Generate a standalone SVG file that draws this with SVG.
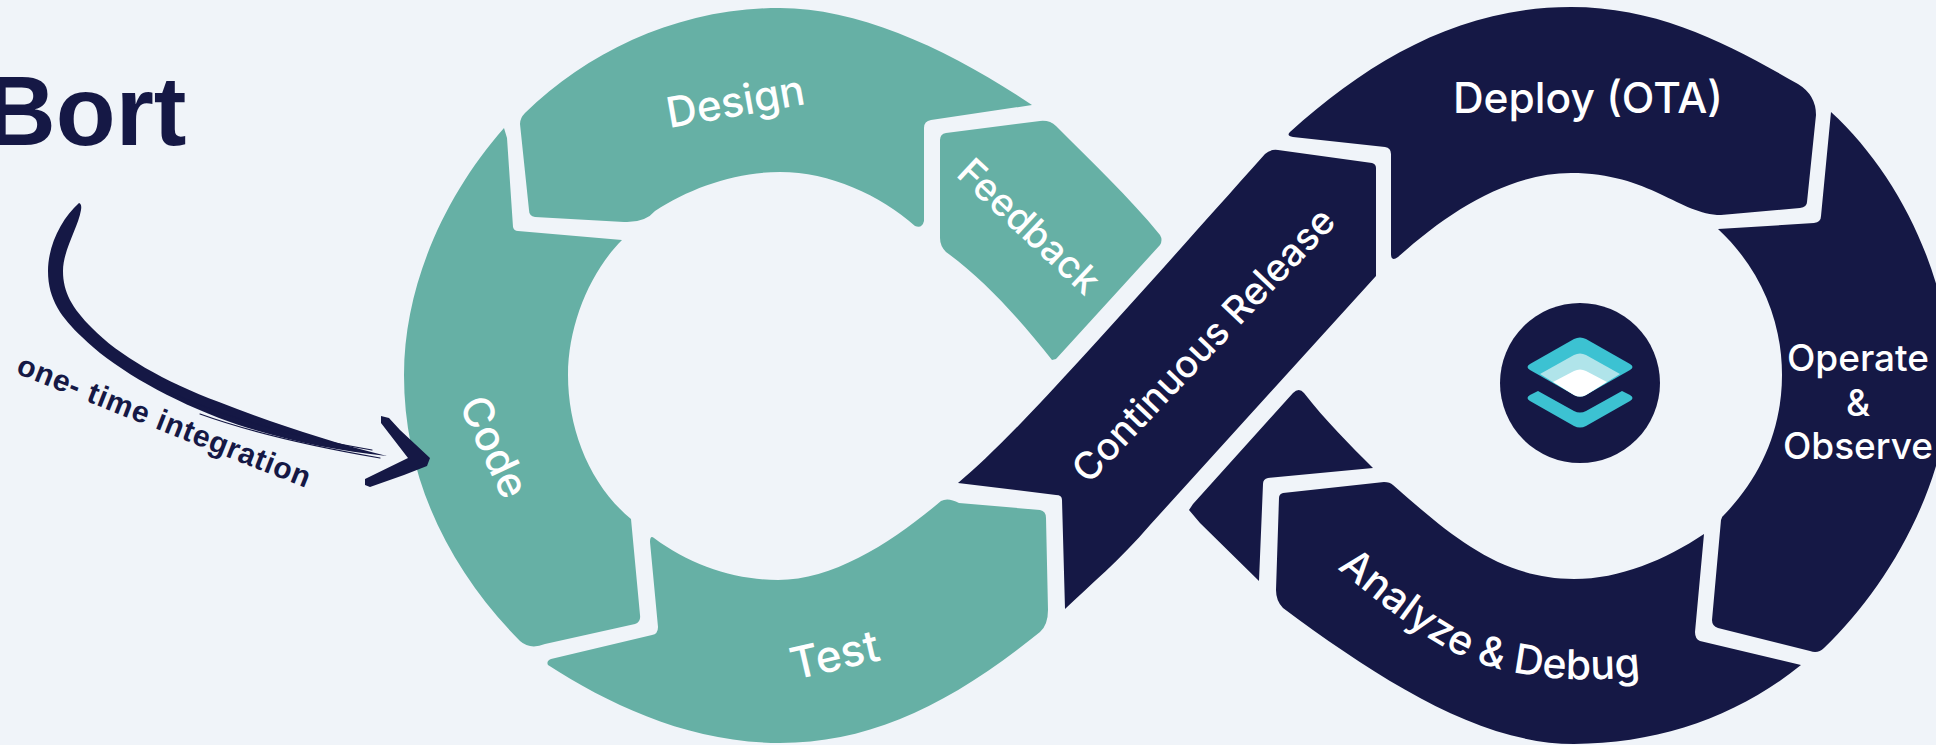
<svg xmlns="http://www.w3.org/2000/svg" width="1936" height="745" viewBox="0 0 1936 745">
<style>
.teal{fill:#66b0a5}
.navy{fill:#151845}
.lbl{font-family:Inter,"Liberation Sans",sans-serif;font-weight:500;font-size:42px;fill:#fff;text-anchor:middle}
.feather{fill:none;stroke:#151845;stroke-width:1.2;stroke-linecap:round}
</style>
<defs>
<path id="analyzePath" d="M1322 556 C1376 600 1428 645 1478 663 C1530 680 1590 684 1660 674"/>
</defs>
<rect width="1936" height="745" fill="#f0f4f9"/>
<g id="bort"><text x="-15" y="145" font-family="'Liberation Sans',Arial,sans-serif" font-weight="700" font-size="98" fill="#151845">Bort</text></g>
<g id="design"><path class="teal" d="M520 124 Q520 118 525 113 C590 50 680 8 780 8 C860 8 950 50 1032 105 L931 120 Q924 121 924 128 L924 221 Q922 229 915 226 C880 195 830 172 780 172 C735 172 690 188 655 211 Q645 223 624 222 L535 217 Q529 216 529 210 Z"/>
<text class="lbl" transform="translate(738 116) rotate(-10)">Design</text></g>
<g id="feedback"><path class="teal" d="M940 140 Q940 134 946 133 L1040 121 Q1050 120 1056 126 C1090 160 1130 198 1160 235 Q1163 240 1160 245 L1056 359 L1052 360 C1020 320 985 280 946 252 Q940 246 940 238 Z"/>
<text class="lbl" transform="translate(1020 236) rotate(43)" style="font-size:38px">Feedback</text></g>
<g id="code"><path class="teal" d="M504 128 L507 138 L513 227 Q514 231 518 231 L622 240 C590 272 568 325 568 375 C568 430 590 485 631 519 L640 615 Q641 622 635 624 L545 644 Q530 650 520 641 C450 570 404 480 404 375 C404 285 445 195 504 128 Z"/>
<text class="lbl" transform="translate(481 453) rotate(65)">Code</text></g>
<g id="test"><path class="teal" d="M650 542 Q650 535 654 538 C690 565 735 580 778 580 C835 580 895 540 941 501 Q948 497 959 503 L1040 510 Q1046 511 1046 518 L1048 610 Q1048 625 1040 632 C950 705 870 743 780 743 C690 743 610 705 548 665 Q546 661 551 659 L652 635 Q658 634 658 627 Z"/>
<text class="lbl" transform="translate(838 670) rotate(-13)" style="font-size:44px">Test</text></g>
<g id="continuous-release"><path class="navy" d="M958 483 C1010 440 1090 350 1265 154 Q1270 149 1278 150 L1372 163 Q1376 164 1376 168 L1376 276 L1150 525 C1120 560 1090 585 1065 609 L1062 500 Q1062 495 1056 495 Z"/>
<text class="lbl" transform="translate(1213 354) rotate(-46.5)" style="font-size:38px">Continuous Release</text></g>
<g id="deploy"><path class="navy" d="M1293 137 Q1286 136 1290 132 C1370 60 1460 7 1571 7 C1660 7 1730 45 1798 84 Q1816 95 1816 115 L1807 202 Q1807 207 1800 208 L1721 215 C1680 215 1650 173 1571 173 C1510 173 1450 210 1398 257 Q1391 262 1391 254 L1391 154 Q1391 148 1385 147 Z"/>
<text class="lbl" transform="translate(1588 113)" style="font-size:42.5px">Deploy (OTA)</text></g>
<g id="operate"><path class="navy" d="M1831 112 C1900 175 1950 280 1950 375 C1950 480 1890 585 1824 648 Q1818 654 1810 651 L1718 628 Q1712 626 1712 620 L1721 520 Q1722 516 1724 515 C1760 478 1782 430 1782 375 C1782 320 1760 268 1718 229 L1814 223 Q1821 222 1821 216 Z"/>
<text class="lbl" x="1858" y="371" style="font-size:37px">Operate</text><text class="lbl" x="1858" y="416" style="font-size:37px">&amp;</text><text class="lbl" x="1858" y="459" style="font-size:37px">Observe</text></g>
<g id="analyze"><path class="navy" d="M1279 498 Q1279 494 1283 493 L1384 482 Q1390 482 1393 485 C1450 535 1500 579 1574 579 C1620 579 1665 560 1704 534 L1695 632 Q1695 639 1700 641 L1801 665 C1740 715 1660 744 1574 744 C1480 744 1380 680 1283 608 Q1276 601 1276 590 Z"/>
<text class="lbl" style="font-size:41px"><textPath href="#analyzePath" startOffset="50%">Analyze &amp; Debug</textPath></text></g>
<g id="release-tail"><path class="navy" d="M1193 504 L1293 393 Q1299 387 1304 393 C1325 420 1350 445 1373 468 L1268 478 Q1263 479 1263 484 L1259 581 L1200 523 L1189 510 Z"/></g>
<g id="logo">
<circle class="navy" cx="1580" cy="383" r="80"/>
<path fill="#3cc2d2" d="M1574 339 Q1580 336 1586 339 L1630 364 Q1635 367 1630 370 L1586 395 Q1580 398 1574 395 L1530 370 Q1525 367 1530 364 Z"/>
<path fill="#b0e4ea" d="M1540 374 L1574 355 Q1580 352 1586 355 L1620 374 L1586 395 Q1580 398 1574 395 Z"/>
<path fill="#fff" d="M1553 382 L1574 371 Q1580 368 1586 371 L1607 382 L1586 395 Q1580 398 1574 395 Z"/>
<path fill="#3cc2d2" d="M1538 391 L1574 411 Q1580 414 1586 411 L1622 391 L1630 395 Q1635 398 1630 401 L1586 426 Q1580 429 1574 426 L1530 401 Q1525 398 1530 395 Z"/>
</g>
<g id="connectors">
<path class="navy" d="M79 203 C62 218 48 245 48 271 C48 300 62 318 82 337 C110 365 160 395 219 418 C270 437 330 450 387 456 C330 442 270 422 219 402 C165 382 118 355 92 328 C72 308 63 292 63 271 C63 250 78 228 81 210 Q82 204 79 203 Z"/>
<path class="feather" d="M170 392 C225 418 290 436 372 450"/>
<path class="feather" d="M200 414 C250 432 310 446 380 458"/>
<path class="navy" d="M381 416 L389 418 L400 430 L430 458 L427 466 L404 475 L370 487 L365 485 L365 479 L408 458 L381 423 Z"/>
<text transform="translate(15 373) rotate(21.6)" font-family="'Liberation Sans',Arial,sans-serif" font-weight="700" font-size="30" letter-spacing="0.8" fill="#151845">one- time integration</text>
</g>
</svg>
